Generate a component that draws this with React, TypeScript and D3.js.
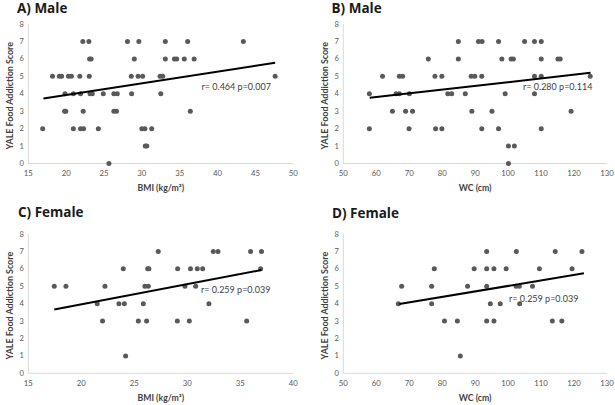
import React from "react";
import * as d3 from "d3";

// ---------- DATA ----------
const yTicks = [0, 1, 2, 3, 4, 5, 6, 7, 8];
const bmiTicksMale = [15, 20, 25, 30, 35, 40, 45, 50];
const bmiTicksFemale = [15, 20, 25, 30, 35, 40];
const wcTicks = [50, 60, 70, 80, 90, 100, 110, 120, 130];

// A) Male – BMI vs YALE score
const maleBmiX = [
  22.2, 23.0, 28.1, 29.6, 33.1, 36.05, 43.4,
  23.1, 23.3, 29.0, 33.1, 34.3, 34.6, 35.6, 36.9,
  18.2, 19.1, 19.4, 20.3, 20.7, 21.8, 23.05, 28.6, 29.5, 30.1, 32.4, 32.75, 47.6,
  19.85, 20.95, 21.9, 23.15, 23.45, 24.9, 26.3, 26.75, 28.65, 32.5,
  19.8, 19.95, 22.25, 26.3, 26.65, 36.4,
  16.9, 20.95, 21.9, 22.3, 24.25, 30.0, 30.4, 31.3,
  30.45, 30.65,
  25.65,
];
const maleBmiY = [
  7, 7, 7, 7, 7, 7, 7,
  6, 6, 6, 6, 6, 6, 6, 6,
  5, 5, 5, 5, 5, 5, 5, 5, 5, 5, 5, 5, 5,
  4, 4, 4, 4, 4, 4, 4, 4, 4, 4,
  3, 3, 3, 3, 3, 3,
  2, 2, 2, 2, 2, 2, 2, 2,
  1, 1,
  0,
];

// B) Male – WC vs YALE score
const maleWcX = [
  84.9, 91.0, 92.1, 97.1, 105.0, 108.0, 110.05,
  75.8, 84.9, 98.1, 100.9, 101.6, 110.05, 115.1, 115.8,
  61.9, 67.0, 68.0, 77.8, 79.9, 88.8, 89.9, 92.0, 108.0, 110.05, 124.9,
  57.9, 66.0, 67.0, 70.05, 81.7, 82.9, 87.0, 99.1, 108.0,
  64.9, 68.9, 71.0, 89.0, 95.1, 119.1,
  57.9, 69.95, 78.0, 79.9, 92.0, 97.1, 110.05,
  100.1, 101.9,
  100.1,
];
const maleWcY = [
  7, 7, 7, 7, 7, 7, 7,
  6, 6, 6, 6, 6, 6, 6, 6,
  5, 5, 5, 5, 5, 5, 5, 5, 5, 5, 5,
  4, 4, 4, 4, 4, 4, 4, 4, 4,
  3, 3, 3, 3, 3, 3,
  2, 2, 2, 2, 2, 2, 2,
  1, 1,
  0,
];

// C) Female – BMI vs YALE score
const femaleBmiX = [
  27.26, 32.45, 32.9, 35.97, 37.0,
  23.96, 26.26, 26.38, 29.09, 30.3, 30.94, 31.45, 36.92,
  17.45, 18.55, 22.23, 26.0, 26.32, 29.78, 30.79,
  21.5, 23.55, 24.06, 25.85, 32.04,
  22.0, 25.38, 26.16, 29.06, 30.19, 35.6,
  24.18,
];
const femaleBmiY = [
  7, 7, 7, 7, 7,
  6, 6, 6, 6, 6, 6, 6, 6,
  5, 5, 5, 5, 5, 5, 5,
  4, 4, 4, 4, 4,
  3, 3, 3, 3, 3, 3,
  1,
];

// D) Female – WC vs YALE score
const femaleWcX = [
  93.5, 102.5, 114.3, 122.4,
  77.6, 89.7, 93.5, 95.7, 99.4, 109.5, 119.4,
  67.7, 76.8, 87.7, 93.5, 102.4, 103.4, 107.4,
  66.7, 76.8, 94.6, 97.6, 103.5,
  80.7, 84.6, 93.5, 95.7, 113.4, 116.3,
  85.5,
];
const femaleWcY = [
  7, 7, 7, 7,
  6, 6, 6, 6, 6, 6, 6,
  5, 5, 5, 5, 5, 5, 5,
  4, 4, 4, 4, 4,
  3, 3, 3, 3, 3, 3,
  1,
];

// trend lines: [x0, y0, x1, y1] endpoints
const fitA = [17, 3.73, 47.6, 5.78];
const fitB = [58, 3.77, 125, 5.2];
const fitC = [17.45, 3.67, 37, 5.93];
const fitD = [67, 3.98, 123, 5.74];

const titles = ["A) Male", "B) Male", "C) Female", "D) Female"];
const statLabels = ["r= 0.464 p=0.007", "r= 0.280 p=0.114", "r= 0.259 p=0.039", "r= 0.259 p=0.039"];
const xTitles = ["BMI (kg/m\u00B2)", "WC (cm)", "BMI (kg/m\u00B2)", "WC (cm)"];
const yTitle = "YALE Food Addiction Score";

// ---------- LAYOUT ----------
const FONT = "Lato, 'Open Sans', 'DejaVu Sans', sans-serif";
const TITLE_FONT = "'Open Sans', Lato, 'DejaVu Sans', sans-serif";

type PanelCfg = {
  title: string;
  titleX: number;
  titleY: number;
  left: number;
  right: number;
  top: number;
  bottom: number;
  xDomain: [number, number];
  xTicks: number[];
  xs: number[];
  ys: number[];
  fit: number[];
  stat: string;
  statX: number;
  statY: number;
  xTitle: string;
  yTitleX: number;
};

const panels: PanelCfg[] = [
  {
    title: titles[0], titleX: 17, titleY: 12.5,
    left: 28.3, right: 293.3, top: 24, bottom: 163.5,
    xDomain: [15, 50], xTicks: bmiTicksMale, xs: maleBmiX, ys: maleBmiY, fit: fitA,
    stat: statLabels[0], statX: 201.5, statY: 90, xTitle: xTitles[0], yTitleX: 10,
  },
  {
    title: titles[1], titleX: 331.5, titleY: 12.5,
    left: 343.3, right: 607, top: 24, bottom: 163.5,
    xDomain: [50, 130], xTicks: wcTicks, xs: maleWcX, ys: maleWcY, fit: fitB,
    stat: statLabels[1], statX: 523, statY: 90, xTitle: xTitles[1], yTitleX: 325,
  },
  {
    title: titles[2], titleX: 18, titleY: 217,
    left: 28.3, right: 293.3, top: 234, bottom: 373.3,
    xDomain: [15, 40], xTicks: bmiTicksFemale, xs: femaleBmiX, ys: femaleBmiY, fit: fitC,
    stat: statLabels[2], statX: 201, statY: 293, xTitle: xTitles[2], yTitleX: 10,
  },
  {
    title: titles[3], titleX: 332, titleY: 217.5,
    left: 343.3, right: 607, top: 234, bottom: 373.3,
    xDomain: [50, 130], xTicks: wcTicks, xs: femaleWcX, ys: femaleWcY, fit: fitD,
    stat: statLabels[3], statX: 509, statY: 302, xTitle: xTitles[3], yTitleX: 325,
  },
];

function Panel({ p }: { p: PanelCfg }) {
  const x = d3.scaleLinear().domain(p.xDomain).range([p.left, p.right]);
  const y = d3.scaleLinear().domain([0, 8]).range([p.bottom, p.top]);
  const line = d3
    .line<[number, number]>()
    .x((d) => x(d[0]))
    .y((d) => y(d[1]));
  const fitPts: [number, number][] = [
    [p.fit[0], p.fit[1]],
    [p.fit[2], p.fit[3]],
  ];
  const cy = (p.top + p.bottom) / 2 + 2;
  return (
    <g>
      <text x={p.titleX} y={p.titleY} fontFamily={TITLE_FONT} fontWeight="bold" fontSize={13.5} fill="#1a1a1a">
        {p.title}
      </text>
      {/* axes */}
      <line x1={p.left} x2={p.left} y1={p.top} y2={p.bottom} stroke="#d9d9d9" strokeWidth={1} />
      <line x1={p.left} x2={p.right} y1={p.bottom} y2={p.bottom} stroke="#d9d9d9" strokeWidth={1} />
      {yTicks.map((t) => (
        <text key={"y" + t} x={p.left - 4.5} y={y(t) + 2.6} textAnchor="end" fontFamily={FONT} fontSize={7.5} fill="#595959">
          {t}
        </text>
      ))}
      {p.xTicks.map((t) => (
        <text key={"x" + t} x={x(t)} y={p.bottom + 12.5} textAnchor="middle" fontFamily={FONT} fontSize={7.8} fill="#595959">
          {t}
        </text>
      ))}
      <text
        x={(p.left + p.right) / 2}
        y={p.bottom + 27.5}
        textAnchor="middle"
        fontFamily={FONT}
        fontWeight="bold"
        fontSize={8.7}
        fill="#404040"
      >
        {p.xTitle}
      </text>
      <text
        transform={`translate(${p.yTitleX + 3},${cy}) rotate(-90)`}
        textAnchor="middle"
        fontFamily={FONT}
        fontWeight="bold"
        fontSize={8.9}
        fill="#404040"
      >
        {yTitle}
      </text>
      {/* points */}
      {p.xs.map((v, i) => (
        <circle key={i} cx={x(v)} cy={y(p.ys[i])} r={2.5} fill="#595959" />
      ))}
      {/* trend */}
      <path d={line(fitPts) || ""} stroke="#000" strokeWidth={2} fill="none" />
      <text x={p.statX} y={p.statY} fontFamily={FONT} fontSize={9} fill="#404040">
        {p.stat}
      </text>
    </g>
  );
}

export default function App() {
  return (
    <svg
      width={615}
      height={405}
      style={{ position: "absolute", left: 0, top: 0, background: "#fff" }}
    >
      <rect width={615} height={405} fill="#fff" />
      {panels.map((p, i) => (
        <Panel key={i} p={p} />
      ))}
    </svg>
  );
}
